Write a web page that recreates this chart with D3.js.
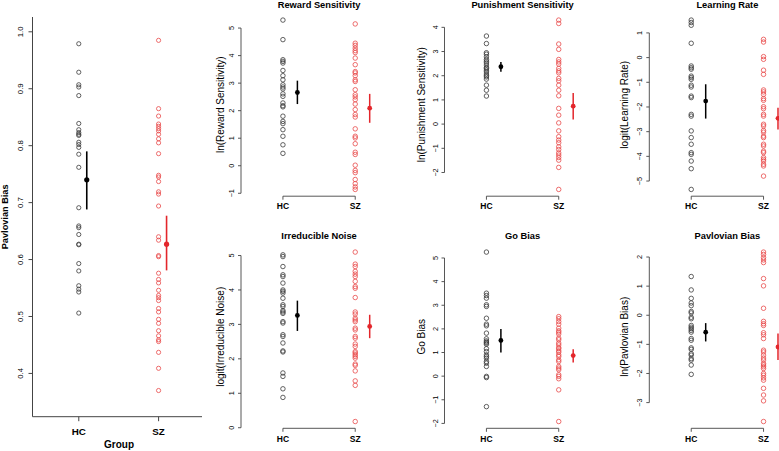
<!DOCTYPE html>
<html><head><meta charset="utf-8">
<script src="https://cdn.jsdelivr.net/npm/d3@7"></script>
<style>
body{margin:0;background:#fff}
svg{display:block}
text{font-family:"Liberation Sans",Arial,Helvetica,sans-serif;fill:#000}
</style>
</head><body>
<svg id="chart" width="779" height="451"></svg>
<script>
// ---------------- DATA ----------------
const groups = ["HC", "SZ"];
const groupPos = [1, 2];

// Left panel: raw Pavlovian bias
const pavRawHC = [0.979, 0.929, 0.907, 0.903, 0.888, 0.839, 0.828, 0.823, 0.820, 0.818, 0.806, 0.802, 0.797, 0.785, 0.762, 0.691, 0.659, 0.656, 0.644, 0.627, 0.626, 0.593, 0.580, 0.554, 0.548, 0.543, 0.506];
const pavRawSZ = [0.985, 0.865, 0.852, 0.838, 0.834, 0.830, 0.826, 0.820, 0.812, 0.805, 0.786, 0.748, 0.745, 0.737, 0.719, 0.715, 0.694, 0.640, 0.634, 0.607, 0.605, 0.576, 0.565, 0.559, 0.546, 0.537, 0.533, 0.528, 0.514, 0.508, 0.495, 0.488, 0.475, 0.466, 0.459, 0.456, 0.437, 0.409, 0.370];
const pavRawMean = [0.740, 0.627];
const pavRawLo = [0.688, 0.581];
const pavRawHi = [0.790, 0.677];
const pavRawTicks = [0.4, 0.5, 0.6, 0.7, 0.8, 0.9, 1.0];
const pavRawLimits = [0.35, 1.0];

// Reward sensitivity
const rewardHC = [5.29, 4.58, 3.85, 3.79, 3.73, 3.46, 3.27, 3.12, 2.94, 2.86, 2.79, 2.61, 2.52, 2.28, 2.18, 2.14, 1.80, 1.61, 1.53, 1.31, 1.07, 0.76, 0.45];
const rewardSZ = [5.15, 4.45, 4.37, 4.27, 4.18, 4.11, 3.91, 3.67, 3.42, 3.37, 3.27, 3.12, 3.06, 2.76, 2.58, 2.50, 2.40, 2.24, 2.04, 1.86, 1.77, 1.34, 1.07, 1.01, 0.80, 0.49, 0.41, 0.02, -0.17, -0.25, -0.50, -0.65, -0.77, -0.86];
const rewardMean = [2.66, 2.09];
const rewardLo = [2.24, 1.56];
const rewardHi = [3.09, 2.61];
const rewardTicks = [-1, 0, 1, 2, 3, 4, 5];

// Punishment sensitivity
const punishHC = [3.64, 3.33, 2.95, 2.89, 2.78, 2.67, 2.60, 2.53, 2.44, 2.34, 2.30, 2.23, 2.16, 2.07, 2.00, 1.95, 1.86, 1.61, 1.40, 1.16];
const punishSZ = [4.30, 4.16, 3.31, 3.09, 2.67, 2.57, 2.48, 2.30, 2.20, 2.12, 1.89, 1.79, 1.61, 1.40, 1.17, 0.65, 0.37, 0.05, -0.28, -0.52, -0.66, -0.77, -0.94, -1.05, -1.19, -1.28, -1.38, -1.49, -1.79, -2.70];
const punishMean = [2.37, 0.74];
const punishLo = [2.16, 0.19];
const punishHi = [2.57, 1.29];
const punishTicks = [-2, -1, 0, 1, 2, 3, 4];

// Learning rate
const learnHC = [1.52, 1.42, 1.31, 0.58, -0.34, -0.41, -0.47, -0.75, -0.81, -0.88, -1.12, -1.19, -1.56, -1.62, -2.30, -2.37, -2.97, -3.24, -3.51, -3.85, -3.92, -4.19, -4.50, -5.34];
const learnSZ = [0.74, 0.63, 0.04, -0.07, -0.51, -0.68, -1.31, -1.39, -1.49, -1.66, -1.73, -1.99, -2.07, -2.30, -2.37, -2.70, -2.77, -2.95, -3.02, -3.18, -3.24, -3.51, -3.58, -3.79, -3.85, -4.05, -4.12, -4.19, -4.32, -4.39, -4.80];
const learnMean = [-1.76, -2.46];
const learnLo = [-2.47, -2.91];
const learnHi = [-1.08, -2.03];
const learnTicks = [-5, -4, -3, -2, -1, 0, 1];

// Irreducible noise
const noiseHC = [5.02, 4.97, 4.68, 4.44, 4.39, 4.20, 4.00, 3.96, 3.91, 3.76, 3.57, 3.52, 3.40, 3.36, 3.32, 3.08, 3.04, 2.70, 2.65, 2.46, 2.23, 2.20, 1.59, 1.49, 1.13, 0.88];
const noiseSZ = [5.10, 4.75, 4.68, 4.54, 4.46, 4.39, 4.25, 4.10, 4.05, 3.78, 3.36, 3.30, 3.18, 3.13, 3.08, 2.89, 2.84, 2.65, 2.60, 2.43, 2.36, 2.21, 2.17, 2.12, 2.07, 2.02, 1.85, 1.81, 1.65, 1.36, 1.23, 0.18];
const noiseMean = [3.26, 2.94];
const noiseLo = [2.81, 2.60];
const noiseHi = [3.69, 3.28];
const noiseTicks = [0, 1, 2, 3, 4, 5];

// Go bias
const goHC = [5.25, 3.51, 3.41, 3.30, 3.02, 2.95, 2.45, 2.20, 2.13, 1.82, 1.58, 1.49, 1.44, 1.40, 1.35, 1.16, 1.04, 0.90, 0.83, 0.76, 0.62, 0.55, 0.41, -0.01, -0.06, -1.29];
const goSZ = [2.52, 2.43, 2.31, 2.20, 2.03, 1.92, 1.86, 1.78, 1.61, 1.54, 1.40, 1.32, 1.21, 1.16, 1.07, 1.01, 0.90, 0.83, 0.69, 0.62, 0.41, 0.34, 0.27, 0.06, -0.01, -0.11, -0.58, -1.92];
const goMean = [1.51, 0.87];
const goLo = [1.00, 0.58];
const goHi = [1.99, 1.14];
const goTicks = [-2, -1, 0, 1, 2, 3, 4, 5];

// ln(Pavlovian bias)
const pavHC = [1.33, 0.87, 0.58, 0.42, 0.33, 0.13, 0.08, -0.07, -0.12, -0.35, -0.41, -0.46, -0.52, -0.58, -0.80, -0.86, -1.12, -1.17, -1.32, -1.37, -1.49, -1.54, -1.71, -2.03];
const pavSZ = [2.17, 2.09, 1.98, 1.90, 1.81, 1.26, 1.01, 0.24, -0.21, -0.29, -0.35, -0.60, -0.67, -0.80, -1.20, -1.26, -1.37, -1.47, -1.54, -1.66, -1.71, -1.77, -1.83, -2.00, -2.06, -2.15, -2.23, -2.51, -2.74, -2.94, -3.65];
const pavMean = [-0.58, -1.09];
const pavLo = [-0.90, -1.54];
const pavHi = [-0.27, -0.63];
const pavTicks = [-3, -2, -1, 0, 1, 2];

const panelTitles = ["Reward Sensitivity", "Punishment Sensitivity", "Learning Rate", "Irreducible Noise", "Go Bias", "Pavlovian Bias"];
const panelYLabels = ["ln(Reward Sensitivity)", "ln(Punishment Sensitivity)", "logit(Learning Rate)", "logit(Irreducible Noise)", "Go Bias", "ln(Pavlovian Bias)"];

// ---------------- DRAWING ----------------
const svg = d3.select("#chart");
const HC_PT = "#3a3a3a", SZ_PT = "#e84a4a";
const HC_MEAN = "#000000", SZ_MEAN = "#e3262b";
const AXIS = "#444";
const fmtNum = v => (v < 0 ? "\u2212" + Math.abs(v) : String(v));
const pad4 = ([a, b]) => { const r = b - a; return [a - 0.04 * r, b + 0.04 * r]; };

function drawGroupMarks(g, x, y, ptsHC, ptsSZ, means, lo, hi, off, r, meanR, barW) {
  const sets = [ptsHC, ptsSZ];
  const cols = [HC_PT, SZ_PT];
  sets.forEach((pts, i) => {
    g.selectAll(null).data(pts).enter().append("circle")
      .attr("cx", x(groupPos[i])).attr("cy", d => y(d)).attr("r", r)
      .attr("fill", "none").attr("stroke", cols[i]).attr("stroke-width", 0.8);
  });
  const mc = [HC_MEAN, SZ_MEAN];
  groups.forEach((gname, i) => {
    g.append("line")
      .attr("x1", x(groupPos[i] + off)).attr("x2", x(groupPos[i] + off))
      .attr("y1", y(lo[i])).attr("y2", y(hi[i]))
      .attr("stroke", mc[i]).attr("stroke-width", barW);
    g.append("circle")
      .attr("cx", x(groupPos[i] + off)).attr("cy", y(means[i])).attr("r", meanR)
      .attr("fill", mc[i]);
  });
}

// ---- Left big panel ----
(function () {
  const g = svg.append("g");
  const left = 32.5, top = 17, bottom = 416.7;
  const x = d3.scaleLinear().domain([0.42, 2.58]).range([left, left + 2.16 * 79.8]);
  const y = d3.scaleLinear().domain(pad4(pavRawLimits)).range([bottom, top]);
  g.append("path").attr("d", `M${left},${top}V${bottom}H202`)
    .attr("fill", "none").attr("stroke", AXIS).attr("stroke-width", 1);
  pavRawTicks.forEach(t => {
    g.append("line").attr("x1", left - 4).attr("x2", left).attr("y1", y(t)).attr("y2", y(t))
      .attr("stroke", AXIS).attr("stroke-width", 1);
    g.append("text").attr("transform", `translate(20,${y(t)}) rotate(-90)`)
      .attr("text-anchor", "middle").attr("dy", "0.35em")
      .style("font-size", "7.8px").text(t.toFixed(1));
  });
  groups.forEach((gn, i) => {
    g.append("line").attr("x1", x(groupPos[i])).attr("x2", x(groupPos[i]))
      .attr("y1", bottom).attr("y2", bottom + 4.5).attr("stroke", AXIS).attr("stroke-width", 1);
    g.append("text").attr("x", x(groupPos[i])).attr("y", 434.5).attr("text-anchor", "middle")
      .style("font-size", "9.8px").style("font-weight", "bold").text(gn);
  });
  g.append("text").attr("x", 119).attr("y", 448).attr("text-anchor", "middle")
    .style("font-size", "10px").style("font-weight", "bold").text("Group");
  g.append("text").attr("transform", `translate(4.5,${(top + bottom) / 2}) rotate(-90)`)
    .attr("text-anchor", "middle").attr("dy", "0.35em")
    .style("font-size", "9.2px").style("font-weight", "bold").text("Pavlovian Bias");
  drawGroupMarks(g, x, y, pavRawHC, pavRawSZ, pavRawMean, pavRawLo, pavRawHi, 0.1, 2.1, 2.6, 1.6);
})();

// ---- Small panels ----
const smallPanels = [
  { hc: rewardHC, sz: rewardSZ, m: rewardMean, lo: rewardLo, hi: rewardHi, ticks: rewardTicks },
  { hc: punishHC, sz: punishSZ, m: punishMean, lo: punishLo, hi: punishHi, ticks: punishTicks },
  { hc: learnHC, sz: learnSZ, m: learnMean, lo: learnLo, hi: learnHi, ticks: learnTicks },
  { hc: noiseHC, sz: noiseSZ, m: noiseMean, lo: noiseLo, hi: noiseHi, ticks: noiseTicks },
  { hc: goHC, sz: goSZ, m: goMean, lo: goLo, hi: goHi, ticks: goTicks },
  { hc: pavHC, sz: pavSZ, m: pavMean, lo: pavLo, hi: pavHi, ticks: pavTicks }
];
const colLeft = [241, 444.5, 649.3];
const colYLab = [220, 421.5, 624.5];
const rowTop = [13.3, 245.3];
const rowBottom = [196.2, 428.3];
const rowTitleY = [7.6, 239];
const rowXLabY = [208.7, 441.5];

smallPanels.forEach((p, k) => {
  const c = k % 3, rw = Math.floor(k / 3);
  const g = svg.append("g");
  const left = colLeft[c];
  const unit = 72.3;
  const x = d3.scaleLinear().domain([0.42, 2.58]).range([left, left + 2.16 * unit]);
  const ext = d3.extent(p.hc.concat(p.sz));
  const y = d3.scaleLinear().domain(pad4(ext)).range([rowBottom[rw], rowTop[rw]]);
  const t0 = d3.min(p.ticks), t1 = d3.max(p.ticks);
  g.append("line").attr("x1", left).attr("x2", left).attr("y1", y(t0)).attr("y2", y(t1))
    .attr("stroke", AXIS).attr("stroke-width", 0.9);
  p.ticks.forEach(t => {
    g.append("line").attr("x1", left - 3).attr("x2", left).attr("y1", y(t)).attr("y2", y(t))
      .attr("stroke", AXIS).attr("stroke-width", 0.9);
    g.append("text").attr("transform", `translate(${left - 9.5},${y(t)}) rotate(-90)`)
      .attr("text-anchor", "middle").attr("dy", "0.35em")
      .style("font-size", "7.2px").text(fmtNum(t));
  });
  const yb = rowBottom[rw];
  g.append("line").attr("x1", x(1)).attr("x2", x(2)).attr("y1", yb).attr("y2", yb)
    .attr("stroke", AXIS).attr("stroke-width", 0.9);
  groups.forEach((gn, i) => {
    g.append("line").attr("x1", x(groupPos[i])).attr("x2", x(groupPos[i]))
      .attr("y1", yb).attr("y2", yb + 3.5).attr("stroke", AXIS).attr("stroke-width", 0.9);
    g.append("text").attr("x", x(groupPos[i])).attr("y", rowXLabY[rw]).attr("text-anchor", "middle")
      .style("font-size", "8.5px").style("font-weight", "bold").text(gn);
  });
  g.append("text").attr("x", left + 1.08 * unit).attr("y", rowTitleY[rw]).attr("text-anchor", "middle")
    .style("font-size", "9.3px").style("font-weight", "bold").text(panelTitles[k]);
  g.append("text").attr("transform", `translate(${colYLab[c]},${(rowTop[rw] + rowBottom[rw]) / 2}) rotate(-90)`)
    .attr("text-anchor", "middle").attr("dy", "0.35em")
    .style("font-size", "10px").text(panelYLabels[k]);
  drawGroupMarks(g, x, y, p.hc, p.sz, p.m, p.lo, p.hi, 0.2, 2.25, 2.4, 1.5);
});
</script>
</body></html>
